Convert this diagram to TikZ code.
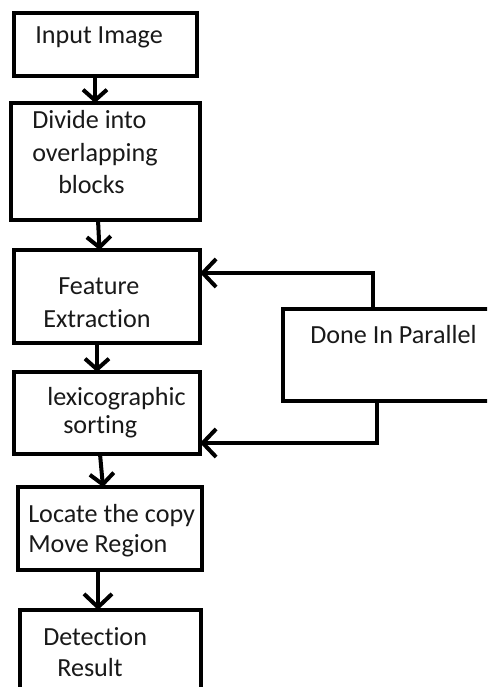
\documentclass[tikz,border=0pt]{standalone}
\usepackage{fontspec}
\setmainfont{Carlito}[RawFeature={-liga}]
\usetikzlibrary{arrows.meta,calc}
\begin{document}
\begin{tikzpicture}[x=0.75pt,y=-0.75pt,
  box/.style={draw=black,line width=3pt,fill=white,inner sep=0pt,outer sep=0pt},
  lbl/.style={anchor=base west,inner sep=0pt,font=\fontsize{19.6pt}{23pt}\selectfont,text=black!90},
  arr/.style={line width=3pt,-{Straight Barb[length=8pt,width=18pt]}},
  sarr/.style={line width=3pt,-{Straight Barb[length=10pt,width=21pt]}}]
\useasboundingbox (0,0) rectangle (487,687);
\clip (0,0) rectangle (487,687);
\fill[white] (0,0) rectangle (487,687);
% boxes
\node[box,minimum width=137.25pt,minimum height=47.25pt] (b1) at (105.5,44.5) {};
\node[box,minimum width=141.75pt,minimum height=87.75pt] (b2) at (105.5,161.5) {};
\node[box,minimum width=139.5pt,minimum height=69.75pt] (b3) at (107,296.5) {};
\node[box,minimum width=139.5pt,minimum height=61.5pt] (b4) at (107,413) {};
\node[box,minimum width=138pt,minimum height=62.25pt] (b5) at (110,528.5) {};
\node[box,minimum width=135.75pt,minimum height=82.5pt] (b6) at (110.5,665) {};
\node[box,minimum width=177.75pt,minimum height=69pt] (done) at (401.5,355) {};
% labels
\node[lbl] (t1) at (35,43) {Input Image};
\node[lbl] (t2a) at (32,128) {Divide into};
\node[lbl] (t2b) at (32,161) {overlapping};
\node[lbl] (t2c) at (58,193) {blocks};
\node[lbl] (t3a) at (58,294) {Feature};
\node[lbl] (t3b) at (43,327) {Extraction};
\node[lbl] (t4a) at (47,405) {lexicographic};
\node[lbl] (t4b) at (63,433) {sorting};
\node[lbl] (t5a) at (28,522) {Locate the copy};
\node[lbl] (t5b) at (28,552) {Move Region};
\node[lbl] (t6a) at (43,645) {Detection};
\node[lbl] (t6b) at (57,676) {Result};
\node[lbl] (t7) at (310,343) {Done In Parallel};
% vertical connectors
\draw[arr] ($(b1.south)+(-10.5,0)$) -- ($(b2.north)+(-10.5,0)$);
\draw[arr] ($(b2.south)+(-7.5,0)$) -- ($(b3.north)+(-7.5,0)$);
\draw[arr] ($(b3.south)+(-10,0)$) -- ($(b4.north)+(-10,0)$);
\draw[arr] ($(b4.south)+(-7,0)$) -- ($(b5.north)+(-7,0)$);
\draw[sarr] ($(b5.south)+(-12,0)$) -- ($(b6.north)+(-12.5,0)$);
% side connectors
\coordinate (c1) at (373,273);
\coordinate (c2) at (377,443);
\draw[sarr] (done.north -| c1) -- (c1) -- (b3.east |- c1);
\draw[sarr] (done.south -| c2) -- (c2) -- (b4.east |- c2);
\end{tikzpicture}
\end{document}
